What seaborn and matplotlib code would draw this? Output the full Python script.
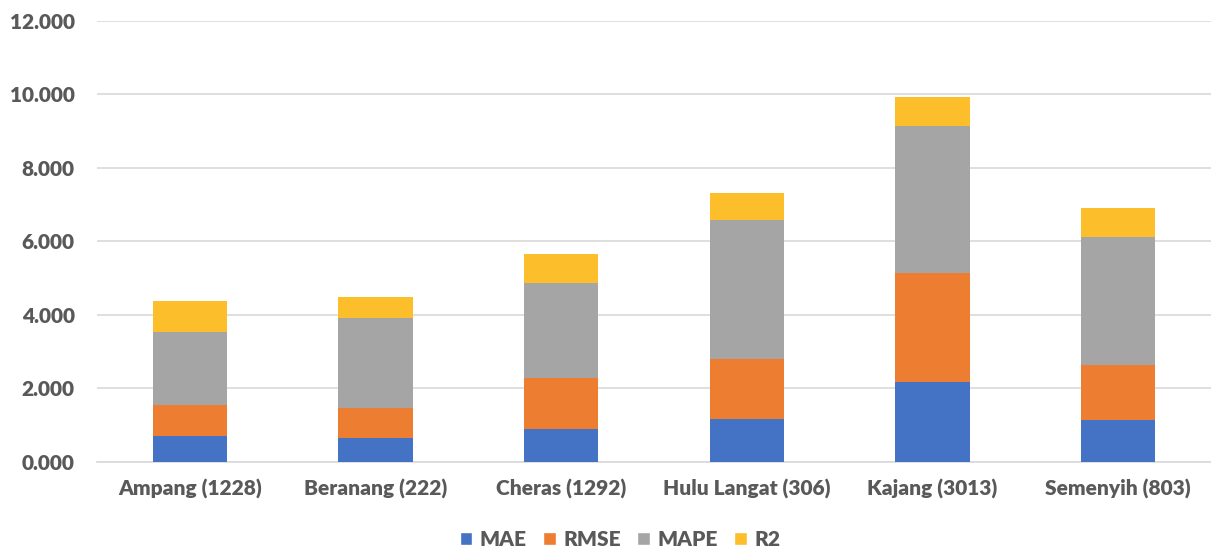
import matplotlib
matplotlib.use("Agg")
import matplotlib.pyplot as plt
import seaborn as sns
import pandas as pd
import numpy as np
from matplotlib.patches import Patch

# Data
districts = ["Ampang (1228)", "Beranang (222)", "Cheras (1292)",
             "Hulu Langat (306)", "Kajang (3013)", "Semenyih (803)"]
mae = [0.70, 0.645, 0.91, 1.17, 2.18, 1.13]
rmse = [0.845, 0.835, 1.37, 1.63, 2.95, 1.52]
mape = [2.00, 2.43, 2.58, 3.79, 4.00, 3.48]
r2 = [0.84, 0.59, 0.79, 0.74, 0.79, 0.79]

metrics = ["MAE", "RMSE", "MAPE", "R2"]
colors = ["#4472C4", "#ED7D31", "#A5A5A5", "#FDBE2C"]

df = pd.DataFrame({"district": districts, "MAE": mae, "RMSE": rmse,
                   "MAPE": mape, "R2": r2})
cum = df[metrics].cumsum(axis=1)
cum["district"] = df["district"]

sns.set_style("white")
plt.rcParams["font.family"] = ["Lato", "DejaVu Sans"]

fig = plt.figure(figsize=(12.11, 5.5), dpi=100)
ax = fig.add_axes([0.080, 0.160, 0.920, 0.802])

# stacked bars: draw cumulative totals from the top down
for m, c in reversed(list(zip(metrics, colors))):
    sns.barplot(data=cum, x="district", y=m, color=c, width=0.4,
                saturation=1, ax=ax, zorder=3, linewidth=0)

ax.set_ylim(0, 12)
ax.set_yticks(np.arange(0, 13, 2))
ax.set_yticklabels([f"{v:.3f}" for v in np.arange(0, 13, 2)])
ax.set_xlim(-0.5, 5.5)
ax.set_xlabel("")
ax.set_ylabel("")
ax.yaxis.grid(True, color="#d9d9d9", linewidth=1.2, zorder=0)
ax.set_axisbelow(True)
for s in ["top", "right", "left"]:
    ax.spines[s].set_visible(False)
ax.spines["bottom"].set_color("#d9d9d9")
ax.spines["bottom"].set_linewidth(1.2)
ax.tick_params(axis="both", length=0, labelsize=15, labelcolor="#595959")
ax.tick_params(axis="x", pad=12)
ax.tick_params(axis="y", pad=16)
for lbl in ax.get_xticklabels() + ax.get_yticklabels():
    lbl.set_fontweight("heavy")

handles = [Patch(facecolor=c, label=m) for m, c in zip(metrics, colors)]
leg = fig.legend(handles=handles, loc="lower center", ncol=4,
                 bbox_to_anchor=(0.512, -0.032), frameon=False,
                 prop={"size": 15, "weight": "heavy"},
                 handlelength=0.6, handleheight=0.6, handletextpad=0.35,
                 columnspacing=0.8)
for t in leg.get_texts():
    t.set_color("#595959")

fig.savefig("out.png", dpi=100)
